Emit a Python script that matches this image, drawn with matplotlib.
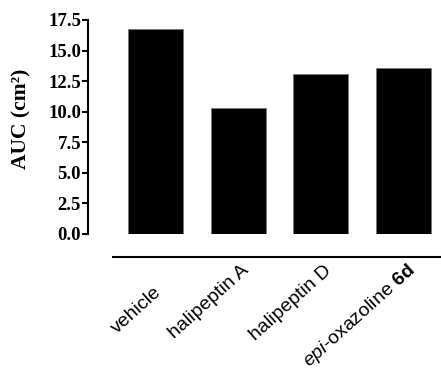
import matplotlib.pyplot as plt
import matplotlib.transforms as mtransforms

# mathtext con Liberation Sans per l'etichetta in corsivo/grassetto
plt.rcParams['mathtext.fontset'] = 'custom'
plt.rcParams['mathtext.rm'] = 'Liberation Sans'
plt.rcParams['mathtext.it'] = 'Liberation Sans:italic'
plt.rcParams['mathtext.bf'] = 'Liberation Sans:bold'

# Dati: area sotto la curva per ciascun trattamento
categorie = ['vehicle', 'halipeptin A', 'halipeptin D',
             r'$\mathit{epi}$-oxazoline $\mathbf{6d}$']
auc = [16.8, 10.3, 13.05, 13.6]
yticks = [0.0, 2.5, 5.0, 7.5, 10.0, 12.5, 15.0, 17.5]

fig = plt.figure(figsize=(4.41, 3.71), dpi=100)
ax = fig.add_axes([88/441, 1 - 234/371, 1 - 88/441, 214/371])

x = range(len(auc))
ax.bar(x, auc, width=0.665, color='black', edgecolor='#777777', linewidth=0.6)

ax.set_ylim(0, 17.5)
ax.set_xlim(-0.816, 3.452)
ax.set_yticks(yticks)
ax.set_yticklabels([f"{v:.1f}" for v in yticks], family='Liberation Serif',
                   fontweight='bold', fontsize=13.5)
ax.set_ylabel('AUC (cm²)', family='Liberation Serif', fontweight='bold',
              fontsize=15.5)
ax.yaxis.set_label_coords(-0.161, 0.54)

# asse x staccato sotto le barre
ax.spines['top'].set_visible(False)
ax.spines['right'].set_visible(False)
ax.spines['left'].set_linewidth(1.5)
ax.spines['bottom'].set_linewidth(1.5)
ax.spines['bottom'].set_position(('outward', 16.5))
ax.spines['bottom'].set_bounds(-0.51, 3.452)
ax.tick_params(axis='y', width=1.5, length=4, pad=1)
ax.tick_params(axis='x', length=0, pad=10.5)

ax.set_xticks(list(x))
ax.set_xticklabels(categorie, rotation=42, ha='right', va='baseline',
                   rotation_mode='anchor', family='Liberation Sans', fontsize=14)
# etichette ruotate: spostamento a destra, "vehicle" un po' piu' in basso
scosta_x = [5, 8, 8, 9]
scosta_y = [-16, 0, 0, 0]
for lab, dx, dy in zip(ax.get_xticklabels(), scosta_x, scosta_y):
    offset = mtransforms.ScaledTranslation(dx/72, dy/72, fig.dpi_scale_trans)
    lab.set_transform(lab.get_transform() + offset)

plt.savefig('out.png', dpi=100)
